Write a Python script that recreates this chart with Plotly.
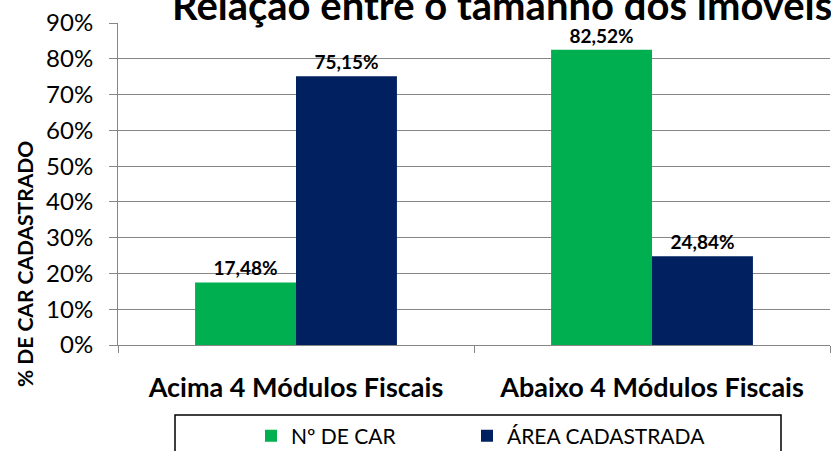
import plotly.graph_objects as go

categories = ["Acima 4 Módulos Fiscais", "Abaixo 4 Módulos Fiscais"]
n_car = [17.48, 82.52]
area = [75.15, 24.84]
series_names = ["Nº DE CAR", "ÁREA CADASTRADA"]
tick_vals = [0, 10, 20, 30, 40, 50, 60, 70, 80, 90]
tick_text = [f"{v}%" for v in tick_vals]

def fmt(v):
    return f"{v:.2f}".replace(".", ",") + "%"

FONT = "Lato"
W, H = 831, 451
L, R, T, B = 118, 1, 23, 106
pw, ph = W - L - R, H - T - B

def px_x(p):
    return (p - L) / pw

def px_y(p):
    return (H - B - p) / ph

fig = go.Figure()
series = [(series_names[0], n_car, "#00B050", "legend"),
          (series_names[1], area, "#002060", "legend2")]
for name, vals, col, leg in series:
    fig.add_trace(go.Bar(x=categories, y=vals, name=name, marker_color=col,
                         marker_line_width=0, legend=leg,
                         text=[fmt(v) for v in vals], textposition="outside",
                         textfont=dict(family=FONT, size=19, color="black", weight="bold"),
                         cliponaxis=False))

leg_common = dict(orientation="h", xref="container", yref="container",
                  xanchor="left", y=1 - 436 / H, yanchor="middle",
                  font=dict(family=FONT, size=21, color="black"),
                  bgcolor="rgba(0,0,0,0)")

fig.update_layout(
    width=W, height=H,
    margin=dict(l=L, r=R, t=T, b=B, pad=0, autoexpand=False),
    plot_bgcolor="white", paper_bgcolor="white",
    barmode="group", bargap=0.433, bargroupgap=0,
    font=dict(family=FONT, color="black"),
    showlegend=True,
    legend=dict(x=251 / W, **leg_common),
    legend2=dict(x=467 / W, **leg_common),
)
fig.update_yaxes(range=[0, 90], tickvals=tick_vals, ticktext=tick_text, automargin=False,
                 showgrid=True, gridcolor="#868686", gridwidth=1,
                 showline=True, linecolor="#868686", linewidth=1,
                 ticks="outside", ticklen=8, tickcolor="#868686", ticklabelstandoff=11,
                 tickfont=dict(family=FONT, size=24, color="black"), zeroline=False)
fig.update_xaxes(showline=True, linecolor="#868686", linewidth=1, automargin=False,
                 ticks="outside", ticklen=7, tickcolor="#868686", tickson="boundaries",
                 ticklabelstandoff=19,
                 tickfont=dict(family=FONT, size=27, color="black", weight="bold"))

fig.add_annotation(text="Relação entre o tamanho dos imóveis", xref="paper", yref="paper",
                   x=px_x(170), y=px_y(31), xanchor="left", yanchor="bottom", showarrow=False,
                   font=dict(family=FONT, size=40, color="black", weight="bold"))
fig.add_annotation(text="% DE CAR CADASTRADO", xref="paper", yref="paper",
                   x=px_x(24), y=px_y(264), xanchor="center", yanchor="middle", textangle=-90,
                   showarrow=False, font=dict(family=FONT, size=21, color="black", weight="bold"))
fig.add_shape(type="rect", xref="paper", yref="paper",
              x0=px_x(175), x1=px_x(781), y0=px_y(455), y1=px_y(415),
              line=dict(color="black", width=1.5))

fig.write_html("out.html", config={"displayModeBar": False},
               post_script="document.body.style.margin='0';")
